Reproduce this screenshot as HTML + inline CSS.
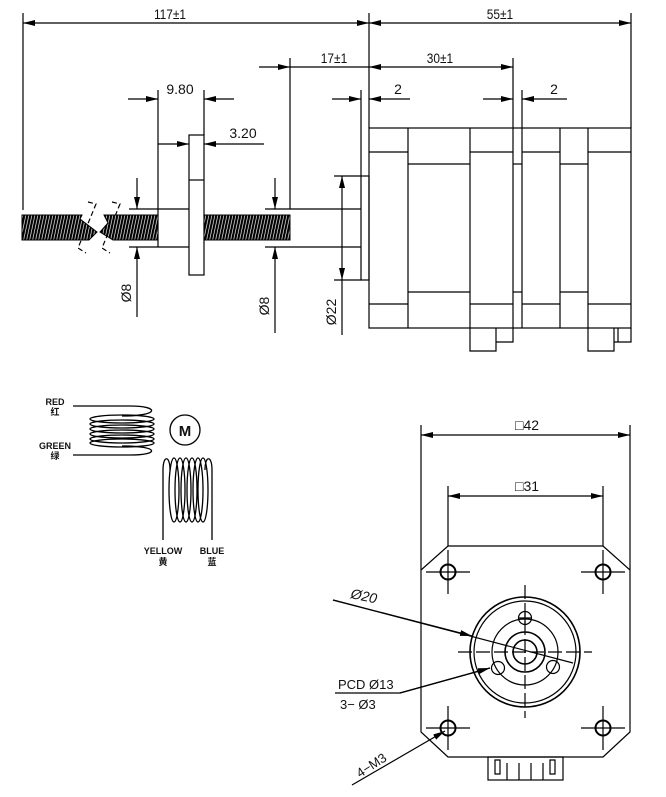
<!DOCTYPE html>
<html><head><meta charset="utf-8"><style>
html,body{margin:0;padding:0;background:#fff}
svg{display:block}
text{font-family:"Liberation Sans","Noto Sans CJK SC",sans-serif;fill:#111}
</style></head><body>
<svg width="666" height="797" viewBox="0 0 666 797" xmlns="http://www.w3.org/2000/svg">
<defs>
<marker id="a" viewBox="0 0 12 6" refX="12" refY="3" markerWidth="12" markerHeight="6" orient="auto-start-reverse" markerUnits="userSpaceOnUse"><path d="M0,0L12,3L0,6z" fill="#000"/></marker>
<pattern id="th" width="3" height="30" patternUnits="userSpaceOnUse" patternTransform="skewX(-12)"><rect width="3" height="30" fill="#fff"/><rect width="2.3" height="30" fill="#000"/></pattern>
</defs>
<g stroke="#000" stroke-width="1.2" fill="none">
<line x1="23" y1="13" x2="23" y2="210"/>
<line x1="369" y1="13" x2="369" y2="128"/>
<line x1="631" y1="13" x2="631" y2="128"/>
<line x1="23" y1="23" x2="369" y2="23" marker-start="url(#a)" marker-end="url(#a)"/>
<line x1="369" y1="23" x2="631" y2="23" marker-start="url(#a)" marker-end="url(#a)"/>
<line x1="290" y1="58" x2="290" y2="209"/>
<line x1="513" y1="58" x2="513" y2="128"/>
<line x1="259" y1="67" x2="290" y2="67" marker-end="url(#a)"/>
<line x1="290" y1="67" x2="369" y2="67"/>
<line x1="369" y1="67" x2="513" y2="67" marker-start="url(#a)" marker-end="url(#a)"/>
<line x1="361" y1="90" x2="361" y2="176"/>
<line x1="522" y1="90" x2="522" y2="128"/>
<line x1="332" y1="99" x2="361" y2="99" marker-end="url(#a)"/>
<line x1="410" y1="99" x2="369" y2="99" marker-end="url(#a)"/>
<line x1="483" y1="99" x2="513" y2="99" marker-end="url(#a)"/>
<line x1="567" y1="99" x2="522" y2="99" marker-end="url(#a)"/>
<line x1="158" y1="90" x2="158" y2="209"/>
<line x1="204" y1="90" x2="204" y2="135"/>
<line x1="128" y1="99" x2="158" y2="99" marker-end="url(#a)"/>
<line x1="234" y1="99" x2="204" y2="99" marker-end="url(#a)"/>
<line x1="158" y1="144" x2="189" y2="144" marker-end="url(#a)"/>
<line x1="264" y1="144" x2="204" y2="144" marker-end="url(#a)"/>
<rect x="369" y="128" width="262" height="200"/>
<line x1="369" y1="152" x2="408" y2="152"/><line x1="470" y1="152" x2="513" y2="152"/><line x1="522" y1="152" x2="560" y2="152"/><line x1="588" y1="152" x2="631" y2="152"/>
<line x1="369" y1="304" x2="408" y2="304"/><line x1="470" y1="304" x2="513" y2="304"/><line x1="522" y1="304" x2="560" y2="304"/><line x1="588" y1="304" x2="631" y2="304"/>
<line x1="408" y1="128" x2="408" y2="328"/><line x1="470" y1="128" x2="470" y2="328"/>
<line x1="513" y1="128" x2="513" y2="328"/><line x1="522" y1="128" x2="522" y2="328"/>
<line x1="560" y1="128" x2="560" y2="328"/><line x1="588" y1="128" x2="588" y2="328"/>
<line x1="408" y1="164" x2="470" y2="164"/><line x1="408" y1="292" x2="470" y2="292"/>
<line x1="513" y1="164" x2="522" y2="164"/><line x1="513" y1="292" x2="522" y2="292"/>
<line x1="560" y1="164" x2="588" y2="164"/><line x1="560" y1="292" x2="588" y2="292"/>
<polyline points="470,328 470,351 496,351 496,328"/><polyline points="496,342 513,342 513,328"/>
<polyline points="588,328 588,351 614,351 614,328"/><polyline points="614,342 631,342 631,328"/><line x1="618" y1="328" x2="618" y2="342"/>
<rect x="361" y="176" width="8" height="104"/>
<line x1="334" y1="176" x2="361" y2="176"/><line x1="334" y1="280" x2="361" y2="280"/>
<line x1="342" y1="176" x2="342" y2="280" marker-start="url(#a)" marker-end="url(#a)"/>
<line x1="342" y1="280" x2="342" y2="335"/>
<line x1="290" y1="209" x2="361" y2="209"/><line x1="290" y1="247" x2="361" y2="247"/>
<line x1="265" y1="209" x2="290" y2="209"/><line x1="265" y1="247" x2="290" y2="247"/>
<line x1="158" y1="209" x2="189" y2="209"/><line x1="158" y1="247" x2="189" y2="247"/>
<line x1="158" y1="209" x2="158" y2="247"/>
<line x1="129" y1="209" x2="158" y2="209"/><line x1="129" y1="247" x2="158" y2="247"/>
<rect x="189" y="135" width="15" height="140"/>
<line x1="189" y1="180" x2="204" y2="180"/>
<line x1="137" y1="178" x2="137" y2="209" marker-end="url(#a)"/>
<line x1="137" y1="317" x2="137" y2="247" marker-end="url(#a)"/>
<line x1="275" y1="178" x2="275" y2="209" marker-end="url(#a)"/>
<line x1="275" y1="333" x2="275" y2="247" marker-end="url(#a)"/>
<polyline points="88,202 96,204 78,248 86,253" stroke-dasharray="5,3"/>
<polyline points="112,202 120,204 102,248 110,253" stroke-dasharray="5,3"/>
</g>
<g stroke="#000" stroke-width="1">
<polygon points="22,215 82,215 80,219 97,232 89,240 22,240" fill="url(#th)"/>
<polygon points="104,215 158,215 158,240 113,240 100,232 108,223" fill="url(#th)"/>
<rect x="204" y="215" width="86" height="25" fill="url(#th)"/>
</g>
<g font-size="14">
<text x="170" y="19" text-anchor="middle" transform="translate(170 0) scale(0.85 1) translate(-170 0)">117±1</text>
<text x="500" y="19" text-anchor="middle" transform="translate(500 0) scale(0.85 1) translate(-500 0)">55±1</text>
<text x="334" y="63" text-anchor="middle" transform="translate(334 0) scale(0.85 1) translate(-334 0)">17±1</text>
<text x="440" y="63" text-anchor="middle" transform="translate(440 0) scale(0.85 1) translate(-440 0)">30±1</text>
<text x="398" y="94" text-anchor="middle">2</text>
<text x="554" y="94" text-anchor="middle">2</text>
<text x="180" y="94" text-anchor="middle" font-family="Liberation Mono">9.80</text>
<text x="243" y="138" text-anchor="middle" font-family="Liberation Mono">3.20</text>
<text transform="translate(131,293) rotate(-90)" text-anchor="middle">Ø8</text>
<text transform="translate(269,306) rotate(-90)" text-anchor="middle">Ø8</text>
<text transform="translate(336,312) rotate(-90)" text-anchor="middle">Ø22</text>
</g>
<g stroke="#000" stroke-width="1.3" fill="none">
<line x1="73" y1="406" x2="130" y2="406"/>
<path d="M130,406 C160,406 160,416 122,416"/>
<ellipse cx="122" cy="419" rx="32" ry="4"/><ellipse cx="122" cy="424" rx="32" ry="4"/><ellipse cx="122" cy="429" rx="32" ry="4"/><ellipse cx="122" cy="434" rx="32" ry="4"/><ellipse cx="122" cy="439" rx="32" ry="4"/><ellipse cx="122" cy="443" rx="32" ry="4"/>
<path d="M122,446 C160,446 160,455 130,455"/>
<line x1="73" y1="455" x2="130" y2="455"/>
<circle cx="185" cy="430" r="15"/>
<path d="M163,540 L163,470 C163,455 170,455 170,470"/>
<ellipse cx="174" cy="490" rx="5" ry="32"/><ellipse cx="180" cy="490" rx="5" ry="32"/><ellipse cx="186" cy="490" rx="5" ry="32"/><ellipse cx="192" cy="490" rx="5" ry="32"/><ellipse cx="198" cy="490" rx="5" ry="32"/><ellipse cx="203" cy="490" rx="5" ry="32"/>
<path d="M205,470 C205,455 212,455 212,470 L212,540"/>
</g>
<g font-size="9" font-weight="bold" text-anchor="middle">
<text x="55" y="405">RED</text><text x="55" y="415">红</text>
<text x="55" y="449">GREEN</text><text x="55" y="459">绿</text>
<text x="163" y="554">YELLOW</text><text x="163" y="565">黄</text>
<text x="212" y="554">BLUE</text><text x="212" y="565">蓝</text>
<text x="185" y="436" font-size="15">M</text>
</g>
<g stroke="#000" stroke-width="1.2" fill="none">
<line x1="421" y1="425" x2="421" y2="570"/><line x1="630" y1="425" x2="630" y2="570"/>
<line x1="421" y1="435" x2="630" y2="435" marker-start="url(#a)" marker-end="url(#a)"/>
<line x1="448" y1="486" x2="448" y2="546"/><line x1="603" y1="486" x2="603" y2="546"/>
<line x1="448" y1="496" x2="603" y2="496" marker-start="url(#a)" marker-end="url(#a)"/>
<polygon points="448,546 603,546 630,570 630,732 603,757 448,757 421,732 421,570"/>
<g stroke-width="2"><circle cx="448" cy="572" r="7.5"/><circle cx="603" cy="572" r="7.5"/><circle cx="448" cy="728" r="7.5"/><circle cx="603" cy="728" r="7.5"/></g>
<path d="M426,572H470M448,550V594M581,572H625M603,550V594M426,728H470M448,706V750M581,728H625M603,706V750"/>
<circle cx="525" cy="652" r="55" stroke-width="1.6"/>
<circle cx="525" cy="652" r="51"/>
<circle cx="525" cy="652" r="33"/>
<circle cx="525" cy="652" r="20" stroke-width="1.6"/>
<circle cx="525" cy="652" r="12" stroke-width="1.6"/>
<circle cx="525" cy="618" r="6.5"/><circle cx="498" cy="668" r="6.5"/><circle cx="553" cy="667" r="6.5"/>
<path d="M458,652H592M525,585V718" stroke-dasharray="14,4"/>
<path d="M519,618H531M525,612V624"/>
<rect x="488" y="757" width="75" height="23"/>
<path d="M495,760v14h5v-14zM550,760v14h5v-14z"/>
<path d="M507,763V780M519,763V780M531,763V780M543,763V780"/>
<line x1="333" y1="600" x2="573" y2="663"/>
<line x1="333" y1="600" x2="472" y2="636" marker-end="url(#a)"/>
<polyline points="335,693 400,693 490,668"/>
<line x1="400" y1="693" x2="490" y2="668" marker-end="url(#a)"/>
<line x1="352" y1="785" x2="445" y2="731" marker-end="url(#a)"/>
</g>
<g font-size="14">
<text x="527" y="430" text-anchor="middle">□42</text>
<text x="527" y="491" text-anchor="middle">□31</text>
<text x="350" y="598" font-style="italic" transform="rotate(12 350 598)">Ø20</text>
<text x="338" y="689" font-size="13">PCD Ø13</text>
<text x="340" y="709" font-size="13">3− Ø3</text>
<text x="360" y="778" font-size="13" transform="rotate(-33 360 778)">4−M3</text>
</g>
</svg>
</body></html>
